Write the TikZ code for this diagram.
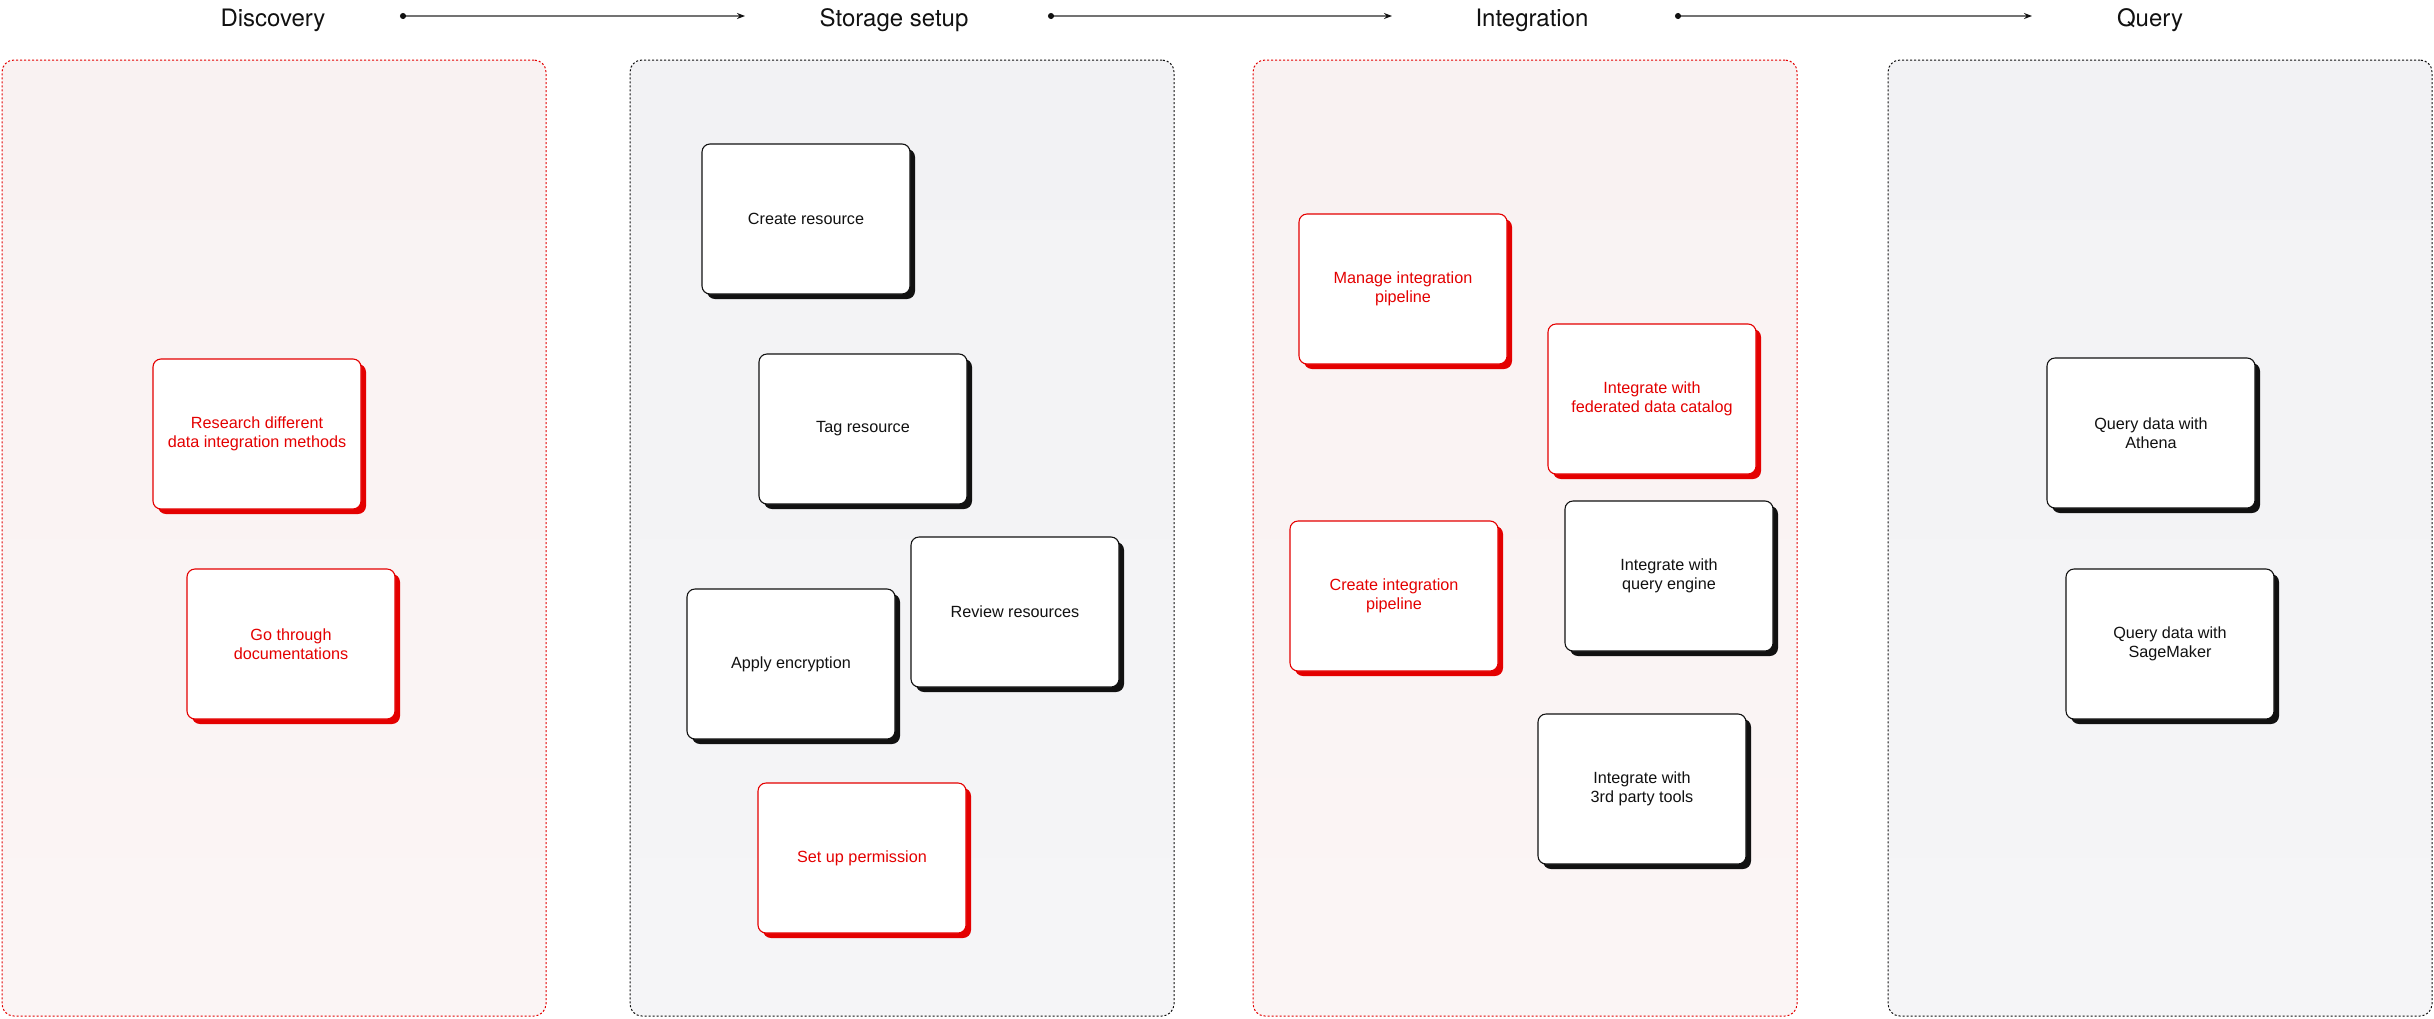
\documentclass[tikz,border=0pt]{standalone}
\usepackage{fontspec}
\setmainfont{Liberation Sans}
\newfontfamily\titlefont{TeX Gyre Heros}
\usetikzlibrary{shadows,arrows.meta}
\definecolor{accent}{RGB}{228,0,0}
\definecolor{pinkbg}{RGB}{249,242,242}
\definecolor{pinkbgB}{RGB}{251,245,245}
\definecolor{graybg}{RGB}{242,242,244}
\definecolor{graybgB}{RGB}{245,245,247}
\definecolor{linegray}{RGB}{115,115,115}
\definecolor{ink}{RGB}{17,17,17}
\tikzset{
  panelbase/.style={minimum width=544pt, minimum height=956pt, rounded corners=12pt,
    line width=1pt, dash pattern=on 2pt off 2pt, inner sep=0pt},
  panelred/.style={panelbase, draw=accent, top color=pinkbg, bottom color=pinkbgB},
  panelgray/.style={panelbase, draw=ink, top color=graybg, bottom color=graybgB},
  cardbase/.style={minimum width=208pt, minimum height=150pt, rounded corners=8pt,
    line width=1.1pt, fill=white, align=center, inner sep=0pt,
    font=\fontsize{16.2}{19.5}\selectfont},
  cardblack/.style={cardbase, draw=ink, text=ink,
    general shadow={fill=ink, shadow xshift=5pt, shadow yshift=-5pt}},
  cardred/.style={cardbase, draw=accent, text=accent,
    general shadow={fill=accent, shadow xshift=5pt, shadow yshift=-5pt}},
  titletext/.style={font=\titlefont\fontsize{24}{28}\selectfont, text=ink, anchor=base, inner sep=0pt},
  flowarrow/.style={draw=linegray, line width=1.4pt,
    {Circle[length=6pt,color=ink]}-{Stealth[length=8pt,width=6pt,color=ink]}}
}
\begin{document}
\begin{tikzpicture}[x=1pt,y=-1pt]
\useasboundingbox (0,0) rectangle (2434,1018);
\fill[white] (0,0) rectangle (2434,1018);

% titles
\node[titletext] (t1) at (273,26) {Discovery};
\node[titletext] (t2) at (894,26) {Storage setup};
\node[titletext] (t3) at (1532,26) {Integration};
\node[titletext] (t4) at (2150,26) {Query};

% arrow end points
\coordinate (a1s) at (400,16);
\coordinate (a1e) at (745,16);
\coordinate (a2s) at (1048,16);
\coordinate (a2e) at (1392,16);
\coordinate (a3s) at (1675,16);
\coordinate (a3e) at (2032,16);
\draw[flowarrow] (a1s) -- (a1e);
\draw[flowarrow] (a2s) -- (a2e);
\draw[flowarrow] (a3s) -- (a3e);

% panels
\node[panelred]  (p1) at (274,538) {};
\node[panelgray] (p2) at (902,538) {};
\node[panelred]  (p3) at (1525,538) {};
\node[panelgray] (p4) at (2160,538) {};

% Discovery
\node[cardred] (research) at (257,434) {Research different\\data integration methods};
\node[cardred] (docs) at (291,644) {Go through\\documentations};

% Storage setup
\node[cardblack] (create) at (806,219) {Create resource};
\node[cardblack] (tag) at (863,429) {Tag resource};
\node[cardblack] (review) at (1015,612) {Review resources};
\node[cardblack] (encrypt) at (791,664) {Apply encryption};
\node[cardred] (perm) at (862,858) {Set up permission};

% Integration
\node[cardred] (manage) at (1403,289) {Manage integration\\pipeline};
\node[cardred] (federated) at (1652,399) {Integrate with\\federated data catalog};
\node[cardred] (createpipe) at (1394,596) {Create integration\\pipeline};
\node[cardblack] (queryeng) at (1669,576) {Integrate with\\query engine};
\node[cardblack] (thirdparty) at (1642,789) {Integrate with\\3rd party tools};

% Query
\node[cardblack] (athena) at (2151,433) {Query data with\\Athena};
\node[cardblack] (sagemaker) at (2170,644) {Query data with\\SageMaker};
\end{tikzpicture}
\end{document}
